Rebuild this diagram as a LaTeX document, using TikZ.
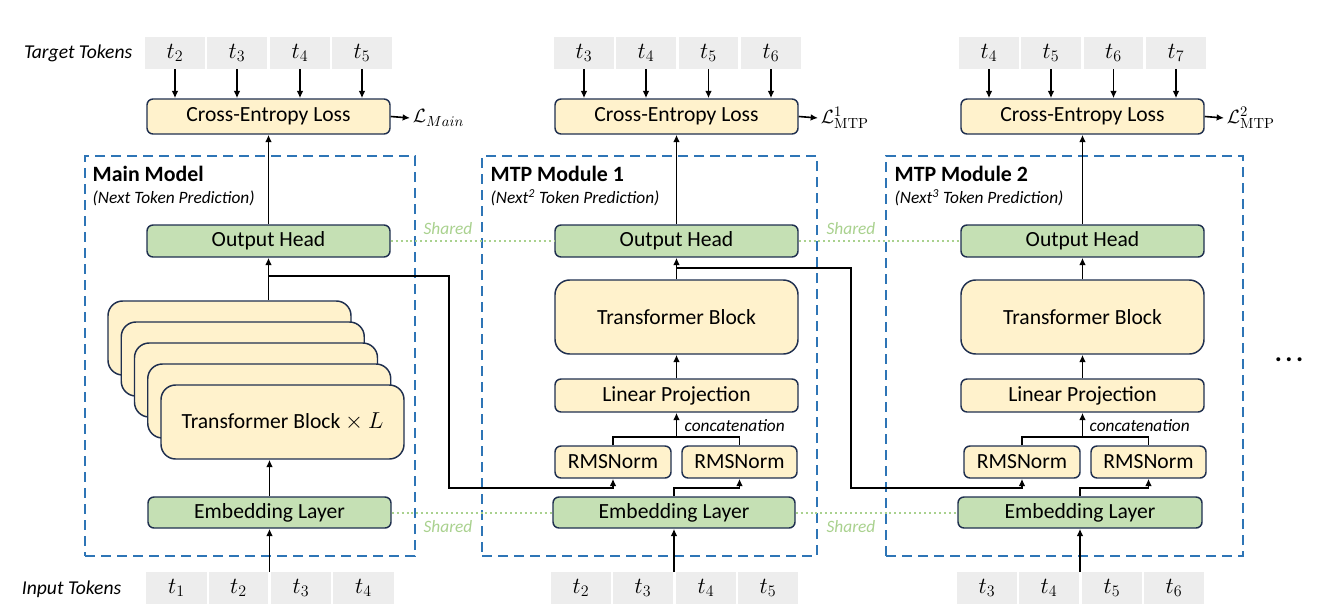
\documentclass[tikz,border=0pt]{standalone}
\usepackage[no-math]{fontspec}
\setmainfont{Carlito}
\usetikzlibrary{arrows.meta,calc}
\definecolor{yel}{HTML}{FFF2CC}
\definecolor{grn}{HTML}{C5E0B4}
\definecolor{edgec}{HTML}{1F2F4F}
\definecolor{dblue}{HTML}{2E75B6}
\definecolor{shgreen}{HTML}{A9D18E}
\definecolor{tokgray}{HTML}{EDEDED}
\newcommand{\bx}[7]{\node[#1, minimum width={(#5-#3)*0.75pt}, minimum height={(#6-#4)*0.75pt}] (#2) at ({(#3+#5)/2},{(#4+#6)/2}) {#7};}
\begin{document}
\begin{tikzpicture}[x=0.75pt,y=-0.75pt,
 base/.style={draw=edgec, line width=1.1pt, rounded corners=4.5pt, inner sep=0pt, font=\fontsize{16.2}{19}\selectfont},
 ybox/.style={base, fill=yel},
 gbox/.style={base, fill=grn},
 tbox/.style={base, fill=yel, rounded corners=11pt},
 tok/.style={fill=tokgray, inner sep=0pt, font=\fontsize{16.5}{19}\selectfont},
 arr/.style={line width=1.2pt, -{Latex[length=5.5pt,width=5pt]}},
 ln/.style={line width=1.2pt},
 dbox/.style={draw=dblue, line width=1.9pt, dash pattern=on 7.5pt off 4.5pt, inner sep=0pt},
 shared/.style={draw=shgreen, line width=1.5pt, dash pattern=on 1.5pt off 2.2pt},
 sharedlbl/.style={text=shgreen, font=\fontsize{13}{15}\selectfont\itshape},
 ttl/.style={anchor=west, font=\fontsize{16.4}{19}\selectfont\bfseries},
 sub/.style={anchor=west, font=\fontsize{13}{15}\selectfont\itshape},
 side/.style={font=\fontsize{14.7}{17}\selectfont\itshape},
 lossl/.style={anchor=west, inner sep=2pt, font=\fontsize{15.5}{18}\selectfont},
 cat/.style={anchor=west, font=\fontsize{13}{15}\selectfont\itshape}
]
\useasboundingbox (0,0) rectangle (1318,614);

% dashed module frames
\bx{dbox}{fr0}{85}{156}{415}{556}{}
\bx{dbox}{fr1}{482}{156}{817}{556}{}
\bx{dbox}{fr2}{886}{156}{1243}{556}{}

\node[ttl] (ti0) at (88,174) {Main Model};
\node[sub] (su0) at (88,198) {(Next Token Prediction)};
\node[ttl] (ti1) at (486,174) {MTP Module 1};
\node[sub] (su1) at (486,198) {(Next\textsuperscript{2} Token Prediction)};
\node[ttl] (ti2) at (890,174) {MTP Module 2};
\node[sub] (su2) at (890,198) {(Next\textsuperscript{3} Token Prediction)};

% side labels
\node[side, anchor=east] (tgtl) at (137,53) {Target Tokens};
\node[side, anchor=east] (inl) at (126,589) {Input Tokens};

% ---------- target tokens ----------
\bx{tok}{a1}{145}{37}{205}{69}{$t_2$}
\bx{tok}{a2}{207}{37}{267}{69}{$t_3$}
\bx{tok}{a3}{270}{37}{330}{69}{$t_4$}
\bx{tok}{a4}{332}{37}{392}{69}{$t_5$}
\bx{tok}{b1}{554}{37}{614}{69}{$t_3$}
\bx{tok}{b2}{616}{37}{676}{69}{$t_4$}
\bx{tok}{b3}{679}{37}{738}{69}{$t_5$}
\bx{tok}{b4}{741}{37}{801}{69}{$t_6$}
\bx{tok}{c1}{959}{37}{1019}{69}{$t_4$}
\bx{tok}{c2}{1021}{37}{1081}{69}{$t_5$}
\bx{tok}{c3}{1084}{37}{1143}{69}{$t_6$}
\bx{tok}{c4}{1146}{37}{1206}{69}{$t_7$}

% ---------- input tokens ----------
\bx{tok}{p1}{146}{572}{207}{604}{$t_1$}
\bx{tok}{p2}{209}{572}{268}{604}{$t_2$}
\bx{tok}{p3}{271}{572}{331}{604}{$t_3$}
\bx{tok}{p4}{333}{572}{394}{604}{$t_4$}
\bx{tok}{q1}{551}{572}{611}{604}{$t_2$}
\bx{tok}{q2}{613}{572}{673}{604}{$t_3$}
\bx{tok}{q3}{676}{572}{736}{604}{$t_4$}
\bx{tok}{q4}{738}{572}{798}{604}{$t_5$}
\bx{tok}{r1}{957}{572}{1017}{604}{$t_3$}
\bx{tok}{r2}{1019}{572}{1079}{604}{$t_4$}
\bx{tok}{r3}{1082}{572}{1142}{604}{$t_5$}
\bx{tok}{r4}{1144}{572}{1204}{604}{$t_6$}

% ---------- shared links ----------
\bx{gbox}{oh0}{147}{225}{390}{257}{Output Head}
\bx{gbox}{oh1}{555}{225}{798}{257}{Output Head}
\bx{gbox}{oh2}{961}{225}{1204}{257}{Output Head}
\bx{gbox}{emb0}{148}{497}{391}{528}{Embedding Layer}
\bx{gbox}{emb1}{553}{497}{795}{528}{Embedding Layer}
\bx{gbox}{emb2}{958}{497}{1202}{528}{Embedding Layer}
\draw[shared] (oh0.east) -- (oh1.west);
\draw[shared] (oh1.east) -- (oh2.west);
\draw[shared] (emb0.east) -- (emb1.west);
\draw[shared] (emb1.east) -- (emb2.west);
\node[sharedlbl] (sh1) at (448,229) {Shared};
\node[sharedlbl] (sh2) at (851,229) {Shared};
\node[sharedlbl] (sh3) at (448,527) {Shared};
\node[sharedlbl] (sh4) at (851,527) {Shared};

% ---------- loss boxes ----------
\bx{ybox}{ce0}{147}{99}{390}{134}{Cross-Entropy Loss}
\bx{ybox}{ce1}{555}{99}{798}{134}{Cross-Entropy Loss}
\bx{ybox}{ce2}{961}{99}{1204}{134}{Cross-Entropy Loss}
\node[lossl] (L0) at (410,118) {$\mathcal{L}_{Main}$};
\node[lossl] (L1) at (818,118) {$\mathcal{L}^{1}_{\mathrm{MTP}}$};
\node[lossl] (L2) at (1224,118) {$\mathcal{L}^{2}_{\mathrm{MTP}}$};
\draw[arr] (ce0.east) -- (L0.west);
\draw[arr] (ce1.east) -- (L1.west);
\draw[arr] (ce2.east) -- (L2.west);

\foreach \n/\m in {a/ce0,b/ce1,c/ce2}{
  \foreach \k in {1,2,3,4}{
    \draw[arr] (\n\k.south) -- (\n\k.south |- \m.north);
  }
}

% ---------- main model ----------
\bx{tbox}{s0}{108}{301}{351}{375}{}
\bx{tbox}{s1}{121.25}{322}{364.25}{396}{}
\bx{tbox}{s2}{134.5}{343}{377.5}{417}{}
\bx{tbox}{s3}{147.75}{364}{390.75}{438}{}
\bx{tbox}{s4}{161}{385}{404}{459}{Transformer Block $\times$ $L$}

\draw[arr] (oh0.north) -- (ce0.south);
\draw[arr] (oh0.south |- s0.north) -- (oh0.south);
\draw[arr] (emb0.north) -- (emb0.north |- s4.south);
\coordinate (in0) at (269.5,572);
\draw[arr] (in0) -- (emb0.south);

% ---------- MTP module 1 ----------
\bx{tbox}{tb1}{555}{280}{798}{354}{Transformer Block}
\bx{ybox}{lp1}{555}{379}{798}{412}{Linear Projection}
\bx{ybox}{rn1a}{555}{446}{671}{478}{RMSNorm}
\bx{ybox}{rn1b}{682}{446}{797}{478}{RMSNorm}

\draw[arr] (oh1.north) -- (ce1.south);
\draw[arr] (oh1.south |- tb1.north) -- (oh1.south);
\draw[arr] (tb1.south |- lp1.north) -- (tb1.south);
\draw[ln] (rn1a.north) -- (rn1a.north |- 0,437) -- (rn1b.north |- 0,437) -- (rn1b.north);
\draw[arr] (lp1.south |- 0,437) -- (lp1.south);
\node[cat] (cat1) at (680,426) {concatenation};
\draw[arr] (emb1.north) -- (emb1.north |- 0,488) -- (rn1b.south |- 0,488) -- (rn1b.south);
\coordinate (in1) at (674,572);
\draw[arr] (in1) -- (emb1.south);

% ---------- MTP module 2 ----------
\bx{tbox}{tb2}{961}{280}{1204}{354}{Transformer Block}
\bx{ybox}{lp2}{961}{379}{1204}{412}{Linear Projection}
\bx{ybox}{rn2a}{964}{446}{1080}{478}{RMSNorm}
\bx{ybox}{rn2b}{1091}{446}{1206}{478}{RMSNorm}

\draw[arr] (oh2.north) -- (ce2.south);
\draw[arr] (oh2.south |- tb2.north) -- (oh2.south);
\draw[arr] (tb2.south |- lp2.north) -- (tb2.south);
\draw[ln] (rn2a.north) -- (rn2a.north |- 0,437) -- (rn2b.north |- 0,437) -- (rn2b.north);
\draw[arr] (lp2.south |- 0,437) -- (lp2.south);
\node[cat] (cat2) at (1085,426) {concatenation};
\draw[arr] (emb2.north) -- (emb2.north |- 0,488) -- (rn2b.south |- 0,488) -- (rn2b.south);
\coordinate (in2) at (1080,572);
\draw[arr] (in2) -- (emb2.south);

% ---------- skip connections ----------
\draw[arr] (oh0.south |- 0,276) -- (449,276) -- (449,488) -- (rn1a.south |- 0,488) -- (rn1a.south);
\draw[arr] (oh1.south |- 0,268) -- (851,268) -- (851,488) -- (rn2a.south |- 0,488) -- (rn2a.south);

% ---------- continuation dots ----------
\node (dots) at (1289,360) {\fontsize{20}{22}\selectfont\textbf{.\hspace{2.6pt}.\hspace{2.6pt}.}};
\end{tikzpicture}
\end{document}
